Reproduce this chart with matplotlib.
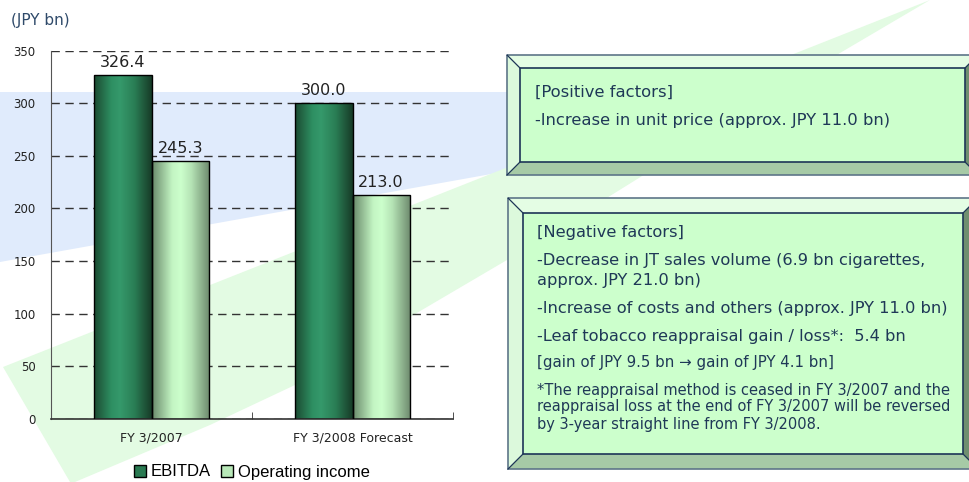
import numpy as np
import matplotlib
matplotlib.use("Agg")
import matplotlib.pyplot as plt
from matplotlib.colors import LinearSegmentedColormap
from matplotlib.patches import Polygon, Rectangle, Patch

# datos del grafico
categorias = ['FY 3/2007', 'FY 3/2008 Forecast']
ebitda = [326.4, 300.0]
operating_income = [245.3, 213.0]
series = ['EBITDA', 'Operating income']
yticks = [0, 50, 100, 150, 200, 250, 300, 350]

positivos = ['[Positive factors]',
             '-Increase in unit price (approx. JPY 11.0 bn)']
negativos = ['[Negative factors]',
             '-Decrease in JT sales volume (6.9 bn cigarettes,',
             'approx. JPY 21.0 bn)',
             '-Increase of costs and others (approx. JPY 11.0 bn)',
             '-Leaf tobacco reappraisal gain / loss*:  5.4 bn']
nota_gain = '[gain of JPY 9.5 bn \u2192 gain of JPY 4.1 bn]'
nota_pie = ['*The reappraisal method is ceased in FY 3/2007 and the',
            'reappraisal loss at the end of FY 3/2007 will be reversed',
            'by 3-year straight line from FY 3/2008.']

W, H = 969, 482
TXT = '#1f3857'

fig = plt.figure(figsize=(W / 100, H / 100), dpi=100)

# fondo decorativo en pixeles
bg = fig.add_axes([0, 0, 1, 1], zorder=0)
bg.set_xlim(0, W)
bg.set_ylim(H, 0)
bg.axis('off')

bg.add_patch(Polygon([(0, 92), (508, 92), (508, 171), (0, 262)],
                     closed=True, facecolor='#e0ebfc', edgecolor='none'))
bg.add_patch(Polygon([(3, 367), (930, 0), (840, 53), (507, 260), (410, 317),
                      (295, 385), (210, 425), (75, 482), (70, 482)],
                     closed=True, facecolor='#e3fbe3', edgecolor='none'))


def caja_biselada(ax, x0, y0, x1, y1, b):
    # bisel: arriba, izquierda, abajo, derecha
    ax.add_patch(Polygon([(x0, y0), (x1, y0), (x1 - b, y0 + b), (x0 + b, y0 + b)],
                         facecolor='#e4fde4', edgecolor='none'))
    ax.add_patch(Polygon([(x0, y0), (x0 + b, y0 + b), (x0 + b, y1 - b), (x0, y1)],
                         facecolor='#dcf9dc', edgecolor='none'))
    ax.add_patch(Polygon([(x0, y1), (x0 + b, y1 - b), (x1 - b, y1 - b), (x1, y1)],
                         facecolor='#a6caa6', edgecolor='none'))
    ax.add_patch(Polygon([(x1, y0), (x1 - b, y0 + b), (x1 - b, y1 - b), (x1, y1)],
                         facecolor='#6f8f70', edgecolor='none'))
    ax.add_patch(Rectangle((x0 + b, y0 + b), x1 - x0 - 2 * b, y1 - y0 - 2 * b,
                           facecolor='#ccffcc', edgecolor='#1d3557', lw=1.2))
    ax.add_patch(Rectangle((x0, y0), x1 - x0, y1 - y0, facecolor='none',
                           edgecolor='#5d7588', lw=1.2))
    for (ax_, ay_), (bx_, by_) in [((x0, y0), (x0 + b, y0 + b)),
                                   ((x0, y1), (x0 + b, y1 - b)),
                                   ((x1, y0), (x1 - b, y0 + b)),
                                   ((x1, y1), (x1 - b, y1 - b))]:
        ax.plot([ax_, bx_], [ay_, by_], color='#1d3557', lw=0.9)


caja_biselada(bg, 507, 55, 978, 175, 13)
caja_biselada(bg, 508, 198, 978, 469, 15)

bg.text(535, 92, positivos[0], fontsize=11.8, color=TXT, va='center')
bg.text(535, 121, positivos[1], fontsize=11.8, color=TXT, va='center')

for txt, yy in zip(negativos, [232, 260, 280, 308, 337]):
    bg.text(537, yy, txt, fontsize=11.7, color=TXT, va='center')
bg.text(537, 363, nota_gain, fontsize=10.8, color=TXT, va='center')
for txt, yy in zip(nota_pie, [390, 407, 424]):
    bg.text(537, yy, txt, fontsize=10.5, color=TXT, va='center')

fig.text(11 / W, 1 - 21 / H, '(JPY bn)', fontsize=11, color='#2f4a6a',
         va='center', ha='left')

# grafico de barras
ax = fig.add_axes([51 / W, 1 - 419 / H, 402 / W, 368.5 / H], zorder=1)
ax.patch.set_alpha(0)

x = np.arange(len(categorias))
ancho = 0.285
b1 = ax.bar(x - ancho / 2, ebitda, ancho, facecolor='none', edgecolor='black', lw=1, zorder=3)
b2 = ax.bar(x + ancho / 2, operating_income, ancho, facecolor='none', edgecolor='black', lw=1, zorder=3)

cm_ebitda = LinearSegmentedColormap.from_list('eb', [(0, '#1b4a31'), (0.3, '#2e8f62'),
                                                      (0.45, '#35996b'), (0.7, '#2a7e55'),
                                                      (1, '#173a27')])
cm_op = LinearSegmentedColormap.from_list('op', [(0, '#6a8a6b'), (0.35, '#c3f5c3'),
                                                  (0.5, '#ccffcc'), (0.68, '#b5e3b5'),
                                                  (1, '#6c886c')])
grad = np.linspace(0, 1, 256).reshape(1, -1)
for cont, cm in [(b1, cm_ebitda), (b2, cm_op)]:
    for r in cont:
        im = ax.imshow(grad, extent=(r.get_x(), r.get_x() + r.get_width(), 0, r.get_height()),
                       aspect='auto', cmap=cm, zorder=2)
        im.set_clip_path(r)

ax.bar_label(b1, fmt='%.1f', padding=3.5, fontsize=11.5, color='#222222')
ax.bar_label(b2, fmt='%.1f', padding=3.5, fontsize=11.5, color='#222222')

ax.set_xlim(-0.5, 1.5)
ax.set_ylim(0, 350)
ax.set_yticks(yticks)
ax.set_xticks(x)
ax.set_xticklabels(categorias)
ax.set_xticks([0.5, 1.5], minor=True)
ax.tick_params(axis='x', which='major', length=0, pad=9, labelsize=9, labelcolor='#222222')
ax.tick_params(axis='x', which='minor', direction='in', length=5, color='#333333')
ax.tick_params(axis='y', length=0, pad=11, labelsize=8.5, labelcolor='#222222')

ax.set_axisbelow(True)
ax.yaxis.grid(True, color='#333333', lw=1, linestyle=(0, (6, 4)))
for s in ['top', 'right']:
    ax.spines[s].set_visible(False)
ax.spines['left'].set_color('#555555')
ax.spines['bottom'].set_color('#333333')
ax.spines['bottom'].set_linewidth(1.2)

handles = [Patch(facecolor='#2a7a52', edgecolor='black', lw=1),
           Patch(facecolor='#b8e8b8', edgecolor='black', lw=1)]
leg = fig.legend(handles, series, loc='center', bbox_to_anchor=(252 / W, 1 - 472 / H), ncol=2,
                 frameon=True, fancybox=False, facecolor='white', edgecolor='white',
                 prop={'family': 'Liberation Sans', 'size': 12}, handlelength=0.7,
                 handleheight=0.7, handletextpad=0.3, columnspacing=0.6, borderpad=0.25)
leg.get_frame().set_alpha(1)

fig.savefig('out.png', dpi=100)
